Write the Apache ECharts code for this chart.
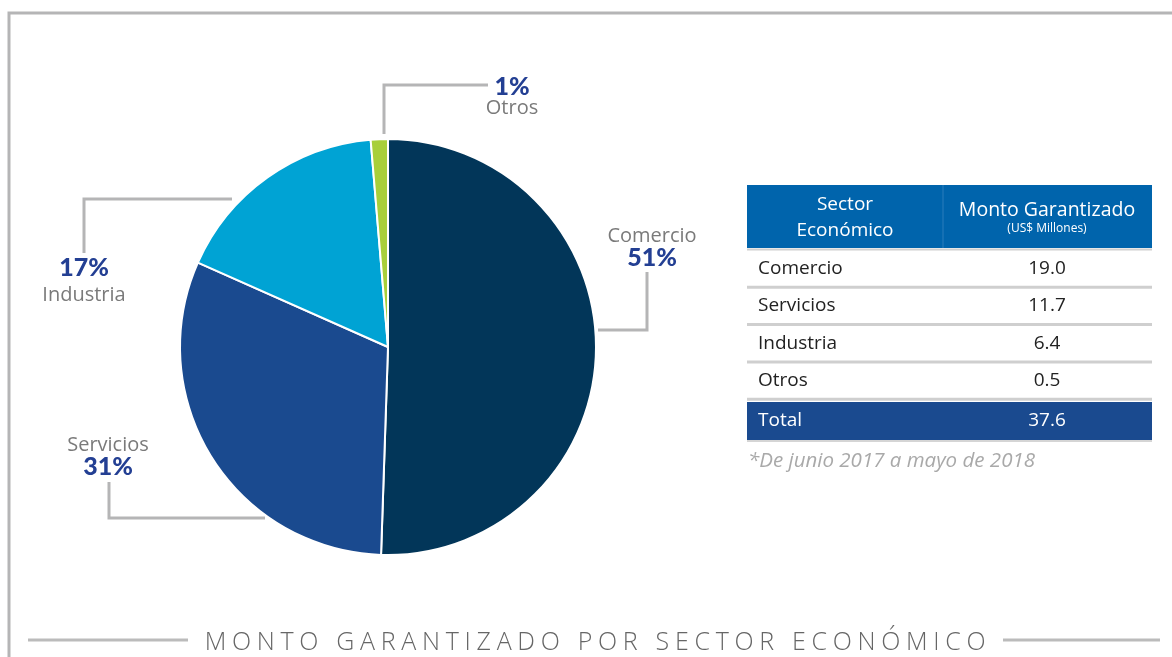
<!DOCTYPE html>
<html>
<head>
<meta charset="utf-8">
<script src="https://cdn.jsdelivr.net/npm/echarts@6/dist/echarts.min.js"></script>
<style>
  html, body { margin: 0; padding: 0; background: #fff; }
  #main { width: 1172px; height: 657px; position: relative; }
  #titulo {
    position: absolute; left: 0; width: 1172px; top: 624px; text-align: center;
    font-family: "Open Sans", sans-serif; font-weight: 300; font-size: 25px;
    letter-spacing: 5.7px; color: #666; line-height: 32px; padding-left: 24px; box-sizing: border-box;
  }
</style>
</head>
<body>
<div id="main"></div>
<div id="titulo">MONTO GARANTIZADO POR SECTOR ECONÓMICO</div>
<script>
// datos
const sectores = ['Comercio', 'Servicios', 'Industria', 'Otros'];
const montos = [19.0, 11.7, 6.4, 0.5];
const colores = ['#023659', '#1a4a8f', '#00a3d4', '#a8cf3a'];
const totalLabel = 'Total';
const totalMonto = 37.6;
const nota = '*De junio 2017 a mayo de 2018';

const chart = echarts.init(document.getElementById('main'));

const pct = montos.map(v => Math.round(v / totalMonto * 100) + '%');

// posiciones de las etiquetas del pie
const etiquetas = [
  { x: 652, y: 236, yPct: 258 },   // Comercio
  { x: 108, y: 445, yPct: 467 },   // Servicios
  { x: 84, y: 295, yPct: 268 },    // Industria
  { x: 512, y: 108, yPct: 87 }     // Otros
];
const lineas = [
  [[598, 330], [647, 330], [647, 272]],
  [[265, 518], [109, 518], [109, 482]],
  [[232, 199], [84, 199], [84, 253]],
  [[384, 134], [384, 85], [488, 85]]
];

const gris = '#b5b5b6';
const fuente = '"Open Sans", sans-serif';
const graphics = [];

// marco
graphics.push({ type: 'polyline', shape: { points: [[9, 660], [9, 13], [1175, 13]] }, style: { stroke: gris, lineWidth: 3, fill: null } });
// lineas del titulo
graphics.push({ type: 'line', shape: { x1: 28, y1: 640, x2: 188, y2: 640 }, style: { stroke: '#bbb', lineWidth: 3 } });
graphics.push({ type: 'line', shape: { x1: 1003, y1: 640, x2: 1160, y2: 640 }, style: { stroke: '#bbb', lineWidth: 3 } });

sectores.forEach((s, i) => {
  graphics.push({ type: 'polyline', shape: { points: lineas[i] }, style: { stroke: gris, lineWidth: 3, fill: null } });
  const e = etiquetas[i];
  graphics.push({ type: 'text', x: e.x, y: e.y, style: { text: s, fill: '#7a7a7a', font: '20px ' + fuente, align: 'center', verticalAlign: 'middle' } });
  graphics.push({ type: 'text', x: e.x, y: e.yPct, style: { text: pct[i], fill: '#233f93', font: '900 25px Lato, sans-serif', align: 'center', verticalAlign: 'middle' } });
});

// tabla
const tx = 747, tw = 405, col = 943;
graphics.push({ type: 'rect', shape: { x: tx, y: 185, width: tw, height: 63 }, style: { fill: '#0064ac' } });
graphics.push({ type: 'line', shape: { x1: col, y1: 185, x2: col, y2: 248 }, style: { stroke: '#2a7cbb', lineWidth: 1 } });
graphics.push({ type: 'text', x: 845, y: 205, style: { text: 'Sector', fill: '#fff', font: '19px ' + fuente, align: 'center', verticalAlign: 'middle' } });
graphics.push({ type: 'text', x: 845, y: 231, style: { text: 'Económico', fill: '#fff', font: '19px ' + fuente, align: 'center', verticalAlign: 'middle' } });
graphics.push({ type: 'text', x: 1047, y: 210, style: { text: 'Monto Garantizado', fill: '#fff', font: '19.5px ' + fuente, align: 'center', verticalAlign: 'middle' } });
graphics.push({ type: 'text', x: 1047, y: 229, style: { text: '(US$ Millones)', fill: '#fff', font: '12px ' + fuente, align: 'center', verticalAlign: 'middle' } });
graphics.push({ type: 'line', shape: { x1: tx, y1: 249.5, x2: tx + tw, y2: 249.5 }, style: { stroke: '#d0d0d0', lineWidth: 2 } });

const rowH = 37.3;
sectores.forEach((s, i) => {
  const y0 = 250 + i * rowH;
  graphics.push({ type: 'text', x: 758, y: y0 + 18.5, style: { text: s, fill: '#222', font: '19px ' + fuente, align: 'left', verticalAlign: 'middle' } });
  graphics.push({ type: 'text', x: 1047, y: y0 + 18.5, style: { text: montos[i].toFixed(1), fill: '#222', font: '19px ' + fuente, align: 'center', verticalAlign: 'middle' } });
  graphics.push({ type: 'line', shape: { x1: tx, y1: y0 + rowH, x2: tx + tw, y2: y0 + rowH }, style: { stroke: '#cfcfcf', lineWidth: 3 } });
});
graphics.push({ type: 'rect', shape: { x: tx, y: 402, width: tw, height: 38 }, style: { fill: '#1a4a8f' } });
graphics.push({ type: 'line', shape: { x1: tx, y1: 441, x2: tx + tw, y2: 441 }, style: { stroke: '#d5d5d5', lineWidth: 2 } });
graphics.push({ type: 'text', x: 758, y: 421, style: { text: totalLabel, fill: '#fff', font: '19px ' + fuente, align: 'left', verticalAlign: 'middle' } });
graphics.push({ type: 'text', x: 1047, y: 421, style: { text: totalMonto.toFixed(1), fill: '#fff', font: '19px ' + fuente, align: 'center', verticalAlign: 'middle' } });
graphics.push({ type: 'text', x: 748, y: 461, style: { text: nota, fill: '#a9a9a9', font: 'italic 20.5px ' + fuente, align: 'left', verticalAlign: 'middle' } });

chart.setOption({
  animation: false,
  series: [{
    type: 'pie',
    center: [388, 347],
    radius: [0, 208],
    startAngle: 90,
    clockwise: true,
    label: { show: false },
    labelLine: { show: false },
    itemStyle: { borderColor: '#fff', borderWidth: 2 },
    data: sectores.map((s, i) => ({ name: s, value: montos[i], itemStyle: { color: colores[i] } }))
  }],
  graphic: { elements: graphics }
});
</script>
</body>
</html>
